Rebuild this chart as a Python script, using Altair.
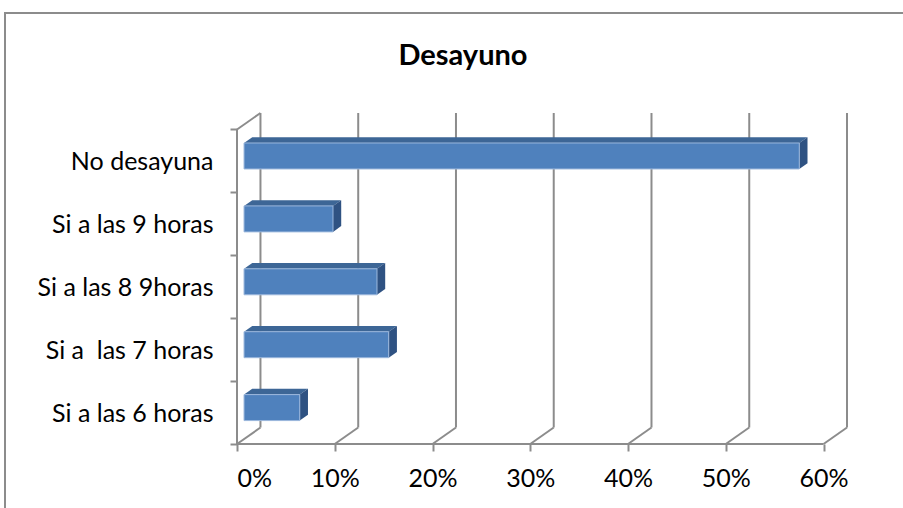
import json
import altair as alt
import pandas as pd

# ---- data ----
title_text = "Desayuno"
categories = ["No desayuna", "Si a las 9 horas", "Si a las 8 9horas", "Si a  las 7 horas", "Si a las 6 horas"]
values = [56.8, 9.1, 13.6, 14.8, 5.7]          # percent
x_ticks = [0, 10, 20, 30, 40, 50, 60]

# ---- 3D style constants (depth offsets in data units) ----
DX = 2.40      # depth shift along x (percent units)
DY = 0.262     # depth shift along y (band units)
BAR_H = 0.413  # bar thickness in band units
D_FRONT = 0.30
D_BACK = 0.65
N = len(categories)
XMAX = x_ticks[-1]

FONT = "Lato"
GRID = "#8c8c8c"
LABEL_SIZE = 25

xs = alt.Scale(domain=[0, XMAX + DX], nice=False, zero=False)
ys = alt.Scale(domain=[-DY, N], nice=False, zero=False, reverse=True)
# keep double spaces visible in SVG
cats_js = json.dumps([c.replace("  ", " \u00a0") for c in categories])

# axes carrier layer (invisible) - first so its axis definitions win
axis_df = pd.DataFrame({"x": [0], "y": [0]})
axes = alt.Chart(axis_df).mark_point(opacity=0).encode(
    x=alt.X("x:Q", scale=xs, axis=alt.Axis(
        values=x_ticks, labelExpr="datum.value + '%'", domain=False, grid=False,
        tickSize=7, tickColor=GRID, tickWidth=2, labelFont=FONT, labelFontSize=LABEL_SIZE,
        labelColor="#000000", labelPadding=15, title=None)),
    y=alt.Y("y:Q", scale=ys, axis=alt.Axis(
        values=list(range(N + 1)),
        labelExpr=f"datum.value < {N} ? {cats_js}[datum.value] : ''",
        labelOffset=32, domain=False, grid=False, tickSize=7, tickColor=GRID,
        tickWidth=2, labelFont=FONT, labelFontSize=LABEL_SIZE, labelColor="#000000",
        labelPadding=17, title=None, labelAlign="right", labelBaseline="middle")),
)

# gridlines on back wall
grid_df = pd.DataFrame({"t": x_ticks})
grid_df["xb"] = grid_df["t"] + DX
grid_df["ytop"] = -DY
grid_df["ybot"] = N - DY
grid_df["yf"] = N

back_grid = alt.Chart(grid_df).mark_rule(color=GRID, strokeWidth=2).encode(
    x=alt.X("xb:Q", scale=xs),
    y=alt.Y("ytop:Q", scale=ys),
    y2="ybot:Q",
)
floor_diag = alt.Chart(grid_df).mark_rule(color=GRID, strokeWidth=2).encode(
    x=alt.X("t:Q", scale=xs),
    x2="xb:Q",
    y=alt.Y("yf:Q", scale=ys),
    y2="ybot:Q",
)

frame_df = pd.DataFrame({
    "x": [0, 0, 0],
    "x2": [DX, 0, XMAX],
    "y": [0, 0, N],
    "y2": [-DY, N, N],
})
frame = alt.Chart(frame_df).mark_rule(color=GRID, strokeWidth=2).encode(
    x=alt.X("x:Q", scale=xs),
    x2="x2:Q",
    y=alt.Y("y:Q", scale=ys),
    y2="y2:Q",
)

# bars
rows = []
top_rows = []
side_rows = []
for i, (c, v) in enumerate(zip(categories, values)):
    cy = i + 0.5
    x0f, x1f = D_FRONT * DX, v + D_FRONT * DX
    x0b, x1b = D_BACK * DX, v + D_BACK * DX
    ytf, ybf = cy - BAR_H / 2 - D_FRONT * DY, cy + BAR_H / 2 - D_FRONT * DY
    ytb, ybb = cy - BAR_H / 2 - D_BACK * DY, cy + BAR_H / 2 - D_BACK * DY
    rows.append({"cat": c, "x": x0f, "x2": x1f, "y": ytf, "y2": ybf})
    top_rows += [{"cat": c, "y": ytf, "x": x0f, "x2": x1f},
                 {"cat": c, "y": ytb, "x": x0b, "x2": x1b}]
    side_rows += [{"cat": c, "x": x1f, "y": ytf, "y2": ybf},
                  {"cat": c, "x": x1b, "y": ytb, "y2": ybb}]

front = alt.Chart(pd.DataFrame(rows)).mark_rect(
    color="#4f81bd", stroke="#9bb7dc", strokeWidth=1).encode(
    x=alt.X("x:Q", scale=xs), x2="x2:Q",
    y=alt.Y("y:Q", scale=ys), y2="y2:Q",
)
top = alt.Chart(pd.DataFrame(top_rows)).mark_area(
    orient="horizontal", color="#3d6696", opacity=1).encode(
    y=alt.Y("y:Q", scale=ys),
    x=alt.X("x:Q", scale=xs), x2="x2:Q",
    detail="cat:N",
)
side = alt.Chart(pd.DataFrame(side_rows)).mark_area(
    orient="vertical", color="#2f5282", opacity=1).encode(
    x=alt.X("x:Q", scale=xs),
    y=alt.Y("y:Q", scale=ys), y2="y2:Q",
    detail="cat:N",
)

border = alt.Chart(axis_df).mark_rect(fill=None, stroke="#8c8c8c", strokeWidth=2).encode(
    x=alt.value(-232), x2=alt.value(700), y=alt.value(-100), y2=alt.value(500),
)

title = alt.Chart(pd.DataFrame({"t": [title_text]})).mark_text(
    font=FONT, fontSize=29, fontWeight="bold", color="#000000",
    align="center", baseline="alphabetic").encode(
    text="t:N", x=alt.value(226), y=alt.value(-48),
)

chart = alt.layer(axes, border, back_grid, floor_diag, frame, top, side, front, title).properties(
    width=610, height=331,
    autosize=alt.AutoSizeParams(type="none"),
    padding={"left": 237, "top": 113, "right": 56, "bottom": 64},
).configure_view(stroke=None)

chart.save("out.html", embed_options={"renderer": "svg", "actions": False})
